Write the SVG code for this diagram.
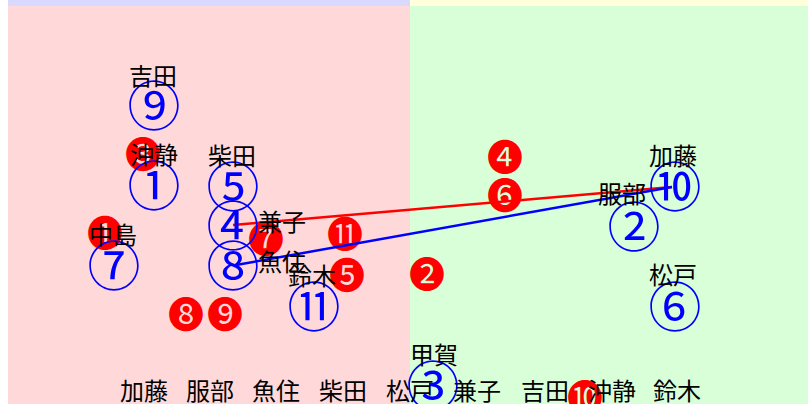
<svg xmlns="http://www.w3.org/2000/svg" width="808" height="404" viewBox="0 0 808 404">
<style>
.lbl{font-family:"Noto Sans CJK JP","Noto Sans CJK SC",sans-serif;font-size:24px;fill:#000;text-anchor:middle;dominant-baseline:central}
.nd{font-family:"Noto Sans CJK JP","Noto Sans CJK SC",sans-serif;font-size:53px;fill:#0000ff;text-anchor:middle;dominant-baseline:central}
.bd{font-family:"Noto Sans CJK JP","Noto Sans CJK SC",sans-serif;font-size:36px;fill:#ff0000;text-anchor:middle;dominant-baseline:central}
.bottom{font-family:"Noto Sans CJK JP","Noto Sans CJK SC",sans-serif;font-size:24px;fill:#000;text-anchor:middle;dominant-baseline:central}
</style>
<g id="background">
<rect x="8" y="0" width="402" height="6" fill="#d9d9ff"/>
<rect x="410" y="0" width="398" height="6" fill="#ffffd9"/>
<rect x="8" y="6" width="402" height="398" fill="#ffd9d9"/>
<rect x="410" y="6" width="398" height="398" fill="#d9ffd9"/>
</g>
<g id="badges">
<text class="bd" x="105" y="231">❶</text>
<text class="bd" x="427" y="272">❷</text>
<text class="bd" x="143" y="152">❸</text>
<text class="bd" x="505" y="155">❹</text>
<text class="bd" x="347" y="273">❺</text>
<text class="bd" x="505" y="193">❻</text>
<text class="bd" x="266" y="237">❼</text>
<text class="bd" x="186" y="312">❽</text>
<text class="bd" x="225" y="312">❾</text>
<text class="bd" x="585" y="395">❿</text>
<text class="bd" x="345" y="232">⓫</text>
</g>
<g id="connectors">
<line x1="233" y1="225" x2="672" y2="187" stroke="#ff0000" stroke-width="2.5"/>
<line x1="236" y1="265" x2="672" y2="187" stroke="#0000ff" stroke-width="2.5"/>
</g>
<g id="node-yoshida"><text class="nd" x="154" y="103">⑨</text><text class="lbl" x="153" y="74">吉田</text></g>
<g id="node-okishizu"><text class="nd" x="154" y="183">①</text><text class="lbl" x="154" y="153">沖静</text></g>
<g id="node-shibata"><text class="nd" x="233" y="184">⑤</text><text class="lbl" x="232" y="154">柴田</text></g>
<g id="node-kaneko"><text class="nd" x="233" y="223">④</text><text class="lbl" x="282" y="220">兼子</text></g>
<g id="node-uozumi"><text class="nd" x="233" y="263">⑧</text><text class="lbl" x="282" y="260">魚住</text></g>
<g id="node-nakajima"><text class="nd" x="114" y="263">⑦</text><text class="lbl" x="113" y="233">中島</text></g>
<g id="node-suzuki"><text class="nd" x="314" y="304">⑪</text><text class="lbl" x="312" y="274">鈴木</text></g>
<g id="node-kato"><text class="nd" x="675" y="184">⑩</text><text class="lbl" x="673" y="154">加藤</text></g>
<g id="node-hattori"><text class="nd" x="634" y="224">②</text><text class="lbl" x="622" y="192">服部</text></g>
<g id="node-matsudo"><text class="nd" x="675" y="304">⑥</text><text class="lbl" x="673" y="273">松戸</text></g>
<g id="node-koga"><text class="nd" x="433" y="383">③</text><text class="lbl" x="434" y="353">甲賀</text></g>
<g id="legend">
<text class="bottom" y="389"><tspan x="144">加藤</tspan><tspan x="210">服部</tspan><tspan x="276">魚住</tspan><tspan x="343">柴田</tspan><tspan x="410">松戸</tspan><tspan x="477">兼子</tspan><tspan x="545">吉田</tspan><tspan x="612">沖静</tspan><tspan x="677">鈴木</tspan></text>
</g>
</svg>
